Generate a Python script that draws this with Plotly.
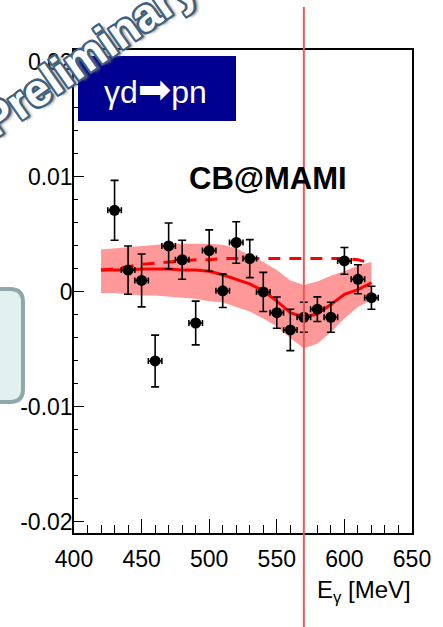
import plotly.graph_objects as go

# ---------------- data ----------------
energy = [430, 440, 450, 460, 470, 480, 490, 500, 510, 520,
          530, 540, 550, 560, 570, 580, 590, 600, 610, 620]
asym = [0.0071, 0.0019, 0.0010, -0.0060, 0.0040, 0.0028, -0.0027, 0.0036, 0.0001, 0.0043,
        0.0029, 0.0000, -0.0018, -0.0033, -0.0022, -0.0015, -0.0022, 0.0027, 0.0011, -0.0005]
asym_err = [0.0026, 0.0021, 0.0023, 0.00225, 0.0020, 0.0017, 0.0019, 0.0018, 0.00145, 0.0018,
            0.00165, 0.0017, 0.00136, 0.0018, 0.0013, 0.00107, 0.0013, 0.00116, 0.00126, 0.0010]
energy_err = [5, 5, 5, 5, 5, 5, 5, 5, 5, 5, 5, 5, 5, 5, 5, 5, 5, 5, 5, 5]

curve_e = [420, 430, 440, 450, 460, 470, 480, 490, 500, 510, 520,
           530, 540, 550, 560, 570, 580, 590, 600, 610, 620]
fit_solid = [0.0019, 0.0019, 0.0019, 0.0020, 0.0020, 0.0020, 0.0019, 0.0019, 0.0018, 0.0015, 0.0011,
             0.0007, 0.0001, -0.0008, -0.0018, -0.0022, -0.0019, -0.0011, -0.0002, 0.0002, 0.0008]
band_upper = [0.0037, 0.0038, 0.0039, 0.0040, 0.0041, 0.0042, 0.0042, 0.0042, 0.0042, 0.0041, 0.0038,
              0.0032, 0.0026, 0.0019, 0.0010, 0.0006, 0.0009, 0.0014, 0.0018, 0.0023, 0.0026]
band_lower = [-0.0001, -0.0001, -0.0002, -0.0003, -0.0003, -0.0004, -0.0005, -0.0006, -0.0008, -0.0009, -0.0013,
              -0.0017, -0.0023, -0.0030, -0.0040, -0.0049, -0.0045, -0.0035, -0.0023, -0.0013, -0.0007]
fit_dashed = [0.0019, 0.0020, 0.0022, 0.0024, 0.0025, 0.0026, 0.0027, 0.0028, 0.0028, 0.0029, 0.0029,
              0.0029, 0.0029, 0.0029, 0.0029, 0.0029, 0.0029, 0.0029, 0.0029, 0.0028, 0.0025]
marker_energy = 570

y_tickvals = [-0.02, -0.01, 0, 0.01, 0.02]
y_ticktext = ["-0.02", "-0.01", "0", "0.01", "0.02"]
x_tickvals = [400, 450, 500, 550, 600, 650]
x_ticktext = ["400", "450", "500", "550", "600", "650"]

# ---------------- geometry helpers (layout only) ----------------
W, H = 443, 627
L, R, T, B = 74, 412, 50, 533


def px(x):
    return (x - L) / (R - L)


def py(y):
    return (B - y) / (B - T)


FONT = "Liberation Sans, Arial, Helvetica, sans-serif"

fig = go.Figure()

# error band
fig.add_trace(go.Scatter(
    x=curve_e + curve_e[::-1],
    y=band_upper + band_lower[::-1],
    fill="toself", fillcolor="rgb(255,153,153)",
    line=dict(width=0), mode="lines", hoverinfo="skip", showlegend=False))

# dashed curve
fig.add_trace(go.Scatter(
    x=curve_e, y=fit_dashed, mode="lines",
    line=dict(color="red", width=3, dash="12px,9px"), showlegend=False))

# solid curve
fig.add_trace(go.Scatter(
    x=curve_e, y=fit_solid, mode="lines",
    line=dict(color="red", width=3), showlegend=False))

# data points
fig.add_trace(go.Scatter(
    x=energy, y=asym, mode="markers",
    marker=dict(color="black", size=11, symbol="circle"),
    error_y=dict(type="data", array=asym_err, color="black", thickness=1.6, width=4),
    error_x=dict(type="data", array=energy_err, color="black", thickness=1.6, width=3),
    showlegend=False))

shapes = []
# vertical red line
shapes.append(dict(type="line", xref="x", yref="paper",
                   x0=marker_energy, x1=marker_energy, y0=py(640), y1=py(7),
                   line=dict(color="rgb(240,85,85)", width=2), layer="above"))

# blue label box
shapes.append(dict(type="rect", xref="paper", yref="paper",
                   x0=px(78), x1=px(236), y0=py(121), y1=py(56),
                   fillcolor="#000090", line=dict(width=0), layer="above"))

# rounded box at left edge
x0, x1, y0, y1, r = -30, 23, 289, 402, 13
path = (f"M {px(x0)},{py(y0)} L {px(x1 - r)},{py(y0)} "
        f"Q {px(x1)},{py(y0)} {px(x1)},{py(y0 + r)} "
        f"L {px(x1)},{py(y1 - r)} "
        f"Q {px(x1)},{py(y1)} {px(x1 - r)},{py(y1)} "
        f"L {px(x0)},{py(y1)} Z")
shapes.append(dict(type="path", xref="paper", yref="paper", path=path,
                   fillcolor="#e3f0f0", line=dict(color="#8fa8aa", width=4), layer="above"))

OUT = "#40607f"
annotations = [
    dict(text=('γd<span style="font-family:DejaVu Sans;font-size:40px">➡</span>pn'),
         xref="paper", yref="paper", x=px(155), y=py(89),
         showarrow=False, xanchor="center", yanchor="middle",
         font=dict(family=FONT, size=32, color="white")),
    dict(text="<b>CB@MAMI</b>", xref="paper", yref="paper", x=px(268), y=py(178),
         showarrow=False, xanchor="center", yanchor="middle",
         font=dict(family=FONT, size=31, color="black")),
    dict(text="E<sub>γ</sub> [MeV]", xref="paper", yref="paper", x=px(413), y=py(591),
         showarrow=False, xanchor="right", yanchor="middle",
         font=dict(family=FONT, size=24, color="black")),
    dict(text="Preliminary", xref="paper", yref="paper", x=px(88), y=py(54),
         showarrow=False, xanchor="center", yanchor="middle", textangle=-35,
         font=dict(family=FONT, size=46, color="white", weight="bold",
                   shadow=(f"-2px -2px 0 {OUT}, 2px -2px 0 {OUT}, -2px 2px 0 {OUT}, "
                           f"2px 2px 0 {OUT}, 0 2px 0 {OUT}, 2px 0 0 {OUT}, "
                           f"-2px 0 0 {OUT}, 0 -2px 0 {OUT}, 3px 3px 3px #777"))),
]

fig.update_layout(
    width=W, height=H,
    margin=dict(l=L, r=W - R, t=T, b=H - B, pad=0),
    paper_bgcolor="white", plot_bgcolor="white",
    shapes=shapes, annotations=annotations,
    font=dict(family=FONT, size=23, color="black"),
    xaxis=dict(range=[400, 650], tickmode="array", tickvals=x_tickvals, ticktext=x_ticktext,
               ticks="inside", ticklen=14, tickwidth=1.3, tickcolor="black",
               ticklabelstandoff=5,
               minor=dict(tickmode="linear", tick0=400, dtick=10, ticks="inside",
                          ticklen=8, tickwidth=1.3, tickcolor="black"),
               showline=True, linecolor="black", linewidth=1.5, mirror=True,
               showgrid=False, zeroline=False,
               tickfont=dict(family=FONT, size=23, color="black")),
    yaxis=dict(range=[-0.02096, 0.02104], tickmode="array", tickvals=y_tickvals, ticktext=y_ticktext,
               ticks="inside", ticklen=10, tickwidth=1.3, tickcolor="black",
               ticklabelstandoff=-5,
               minor=dict(tickmode="linear", tick0=0, dtick=0.002, ticks="inside",
                          ticklen=4, tickwidth=1.3, tickcolor="black"),
               showline=True, linecolor="black", linewidth=1.5, mirror=True,
               showgrid=False, zeroline=False,
               tickfont=dict(family=FONT, size=23, color="black")),
)

fig.write_html("out.html")
